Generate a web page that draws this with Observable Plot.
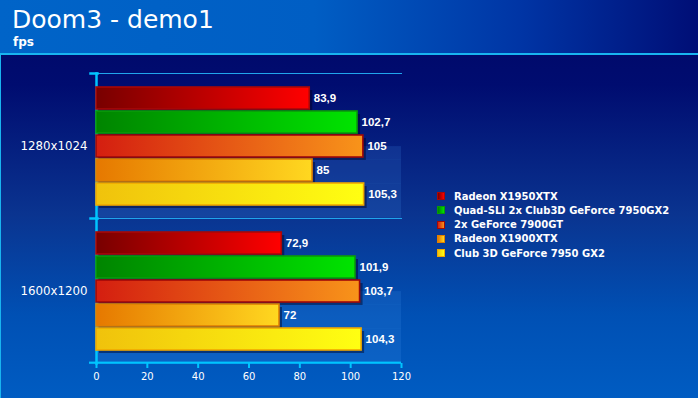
<!DOCTYPE html>
<html><head><meta charset="utf-8">
<script src="https://cdn.jsdelivr.net/npm/d3@7"></script>
<script src="https://cdn.jsdelivr.net/npm/@observablehq/plot@0.6"></script>
<style>
html,body{margin:0;padding:0;}
body{width:698px;height:398px;overflow:hidden;font-family:"DejaVu Sans",sans-serif;background:#0058c0;}
#banner{height:53px;background:linear-gradient(to right,#0064c8 0%,#005ec4 45%,#0034a4 75%,#000e76 100%);border-bottom:2px solid #18b4f0;position:relative;color:#fff;}
#title{position:absolute;left:12px;top:5px;font-size:25px;line-height:30px;}
#sub{position:absolute;left:13px;top:35px;font-size:12px;font-weight:bold;line-height:14px;}
#chart{position:relative;height:343px;background:linear-gradient(to bottom,#000a6c 0px,#000c70 30px,#0a3490 160px,#0050b4 260px,#005cc2 343px);box-shadow:inset 1px 0 0 #18b4f0;}
#chart svg{position:absolute;left:0;top:0;}
#legend{position:absolute;left:437px;top:134px;color:#fff;font-weight:bold;font-size:10px;}
.row{display:flex;align-items:center;height:14.25px;}
.sw{width:8px;height:8px;margin-right:9px;box-sizing:border-box;}
</style></head>
<body>
<div id="banner"><div id="title">Doom3 - demo1</div><div id="sub">fps</div></div>
<div id="chart"><div id="legend"></div></div>
<script>
const groups = ["1280x1024", "1600x1200"];
const series = ["Radeon X1950XTX", "Quad-SLI 2x Club3D GeForce 7950GX2", "2x GeForce 7900GT", "Radeon X1900XTX", "Club 3D GeForce 7950 GX2"];
const fps1280 = [83.9, 102.7, 105, 85, 105.3];
const fps1600 = [72.9, 101.9, 103.7, 72, 104.3];
const xTicks = [0, 20, 40, 60, 80, 100, 120];
const gradFrom = ["#780000", "#008400", "#d41e10", "#e67800", "#f0c20c"];
const gradTo = ["#ff0000", "#00e400", "#f8941a", "#ffd820", "#ffff12"];
const borders = ["#a80808", "#0a9a0a", "#a00808", "#e08000", "#f0a800"];

const data = groups.flatMap((g, gi) => series.map((s, i) => ({group: g, series: s, fps: (gi ? fps1600 : fps1280)[i]})));
const fmt = v => String(v).replace(".", ",");

const panelFill = "#4a9af0", panelOpacity = 0.16;
const lastRow = data.filter(d => d.group === groups[1] && d.series === series[4]);
const plot = Plot.plot({
  width: 698, height: 343,
  marginTop: 17, marginBottom: 35, marginLeft: 96, marginRight: 297,
  style: {background: "transparent", color: "#fff", fontFamily: "DejaVu Sans", fontSize: "10px", overflow: "visible"},
  x: {domain: [0, 120]},
  y: {domain: series, paddingInner: 0.09, paddingOuter: 0, insetTop: 13, insetBottom: 12.5, axis: null},
  fy: {domain: groups, padding: 0, label: null, axis: null},
  color: {domain: series, range: series.map((s, i) => `url(#grad${i})`)},
  marks: [
    Plot.barX(data.filter(d => d.series === series[2]), {fy: "group", y: "series", x1: 0, x2: 120, fill: panelFill, fillOpacity: panelOpacity, insetTop: 11.1, insetBottom: -2.3}),
    Plot.barX(data.filter(d => d.series === series[3]), {fy: "group", y: "series", x1: 0, x2: 120, fill: panelFill, fillOpacity: panelOpacity, insetBottom: -2.3}),
    Plot.barX(data.filter(d => d.series === series[4]), {fy: "group", y: "series", x1: 0, x2: 120, fill: panelFill, fillOpacity: panelOpacity, insetBottom: -12.6}),
    Plot.frame({anchor: "top", stroke: "#20a4ec", strokeWidth: 1}),
    Plot.frame({anchor: "top", stroke: "#00c4ff", strokeWidth: 2.5, insetLeft: -6, insetRight: 304}),
    Plot.frame({anchor: "left", stroke: "#00c4ff", strokeWidth: 2.5}),
    Plot.barX(lastRow, {fy: "group", y: "series", x1: 0, x2: 120, fill: "#00c4ff", insetTop: 33.6, insetBottom: -13.8, insetLeft: -7}),
    Plot.axisX({ticks: xTicks, tickSize: 5, tickPadding: 4, stroke: "#00c4ff", strokeWidth: 2, fill: "#fff", fontSize: 10, label: null}),
    Plot.axisFy({anchor: "left", tickSize: 0, tickPadding: 9, fill: "#fff", fontSize: 11.8, label: null}),
    Plot.barX(data, {fy: "group", y: "series", x: "fps", fill: "#000020", fillOpacity: 0.45, dx: 3, dy: 3}),
    ...series.map((s, i) => Plot.barX(data.filter(d => d.series === s), {fy: "group", y: "series", x: "fps", fill: "series", stroke: borders[i], strokeWidth: 1.6})),
    Plot.text(data, {fy: "group", y: "series", x: "fps", text: d => fmt(d.fps), dx: 4, textAnchor: "start", fill: "#fff", fontWeight: "bold", fontSize: 11.5, fontFamily: "Liberation Sans, Arial, sans-serif"})
  ]
});

const svg = d3.select(plot);
const defs = svg.insert("defs", ":first-child");
series.forEach((s, i) => {
  const g = defs.append("linearGradient").attr("id", "grad" + i).attr("x1", 0).attr("x2", 1).attr("y1", 0).attr("y2", 0);
  g.append("stop").attr("offset", "0%").attr("stop-color", gradFrom[i]);
  g.append("stop").attr("offset", "100%").attr("stop-color", gradTo[i]);
});
document.getElementById("chart").prepend(plot);

const legend = d3.select("#legend");
series.forEach((s, i) => {
  const r = legend.append("div").attr("class", "row");
  r.append("div").attr("class", "sw").style("background", `linear-gradient(to right, ${gradFrom[i]}, ${gradTo[i]})`).style("border", `1.5px solid ${borders[i]}`);
  r.append("div").text(s);
});
</script>
</body></html>
